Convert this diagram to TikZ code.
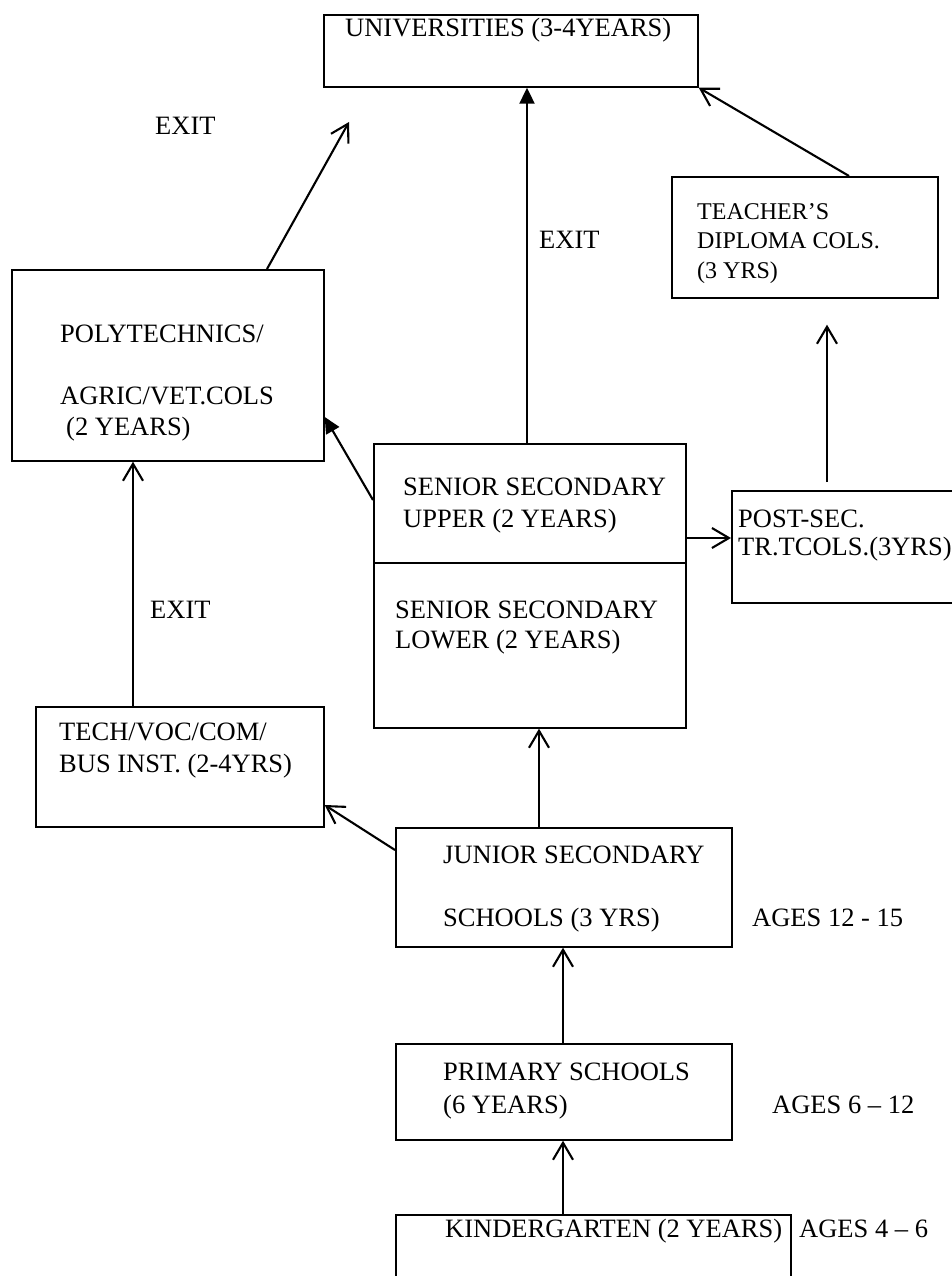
\documentclass[tikz,border=0pt]{standalone}
\usepackage{fontspec}
\setmainfont{Liberation Serif}
\usetikzlibrary{arrows.meta}

\tikzset{
	box/.style={draw, line width=1.7pt, rectangle, inner sep=0pt, anchor=north west},
	txt/.style={anchor=base west, inner sep=0pt, align=left, font=\fontsize{26.5}{31}\selectfont},
	smalltxt/.style={txt, font=\fontsize{24}{29.5}\selectfont},
	openarrow/.style={line width=2.1pt, -{Straight Barb[length=17pt,width=20pt]}},
	fillarrow/.style={line width=2.1pt, -{Triangle[length=16pt,width=15pt]}}
}

\begin{document}
\begin{tikzpicture}[x=1pt, y=-1pt]
			
			\useasboundingbox (0,0) rectangle (951,1276);
			
			% Boxes
			\node[box, minimum width=374pt, minimum height=72pt] (univ) at (323,14) {};
			\node[box, minimum width=312pt, minimum height=191pt] (poly) at (11,269) {};
			\node[box, minimum width=266pt, minimum height=121pt] (teach) at (671,176) {};
			\node[box, minimum width=312pt, minimum height=119pt] (seniorup) at (373,443) {};
			\node[box, minimum width=312pt, minimum height=165pt] (seniorlow) at (373,562) {};
			\node[box, minimum width=240pt, minimum height=112pt] (post) at (731,490) {};
			\node[box, minimum width=288pt, minimum height=120pt] (tech) at (35,706) {};
			\node[box, minimum width=336pt, minimum height=119pt] (junior) at (395,827) {};
			\node[box, minimum width=336pt, minimum height=96pt] (primary) at (395,1043) {};
			\node[box, minimum width=395pt, minimum height=100pt] (kinder) at (395,1214) {};
			
			% Box texts (placed at the baseline of their last line)
			\node[txt] (univtxt) at (345,37) {UNIVERSITIES (3-4YEARS)};
			\node[smalltxt] (teachtxt) at (697,278) {TEACHER’S\\DIPLOMA COLS.\\(3 YRS)};
			\node[txt] (polytxt) at (60,435) {POLYTECHNICS/\\[31pt]AGRIC/VET.COLS\\\hspace*{6pt}(2 YEARS)};
			\node[txt, font=\fontsize{26.5}{32}\selectfont] (seniouptxt) at (403,527) {SENIOR SECONDARY\\UPPER (2 YEARS)};
			\node[txt, font=\fontsize{26.5}{30}\selectfont] (seniorlowtxt) at (395,648) {SENIOR SECONDARY\\LOWER (2 YEARS)};
			\node[txt, font=\fontsize{26.5}{28}\selectfont] (posttxt) at (738,555) {POST-SEC.\\TR.TCOLS.(3YRS)};
			\node[txt, font=\fontsize{26.5}{32}\selectfont] (techtxt) at (59,772) {TECH/VOC/COM/\\BUS INST. (2-4YRS)};
			\node[txt] (juniortxt) at (443,926) {JUNIOR SECONDARY\\[31.5pt]SCHOOLS (3 YRS)};
			\node[txt, font=\fontsize{26.5}{33}\selectfont] (primarytxt) at (443,1113) {PRIMARY SCHOOLS\\(6 YEARS)};
			\node[txt] (kindertxt) at (445,1237) {KINDERGARTEN (2 YEARS)};
			
			% Exit and age labels
			\node[txt] (exita) at (155,135) {EXIT};
			\node[txt] (exitb) at (539,248) {EXIT};
			\node[txt] (exitc) at (150,618) {EXIT};
			\node[txt] (agesjun) at (752,926) {AGES 12 - 15};
			\node[txt] (agesprim) at (772,1113) {AGES 6 – 12};
			\node[txt] (ageskin) at (799,1237) {AGES 4 – 6};
			
			% Free arrow end
			\coordinate (polyexit) at (349,122);
			
			% Connecting arrows
			\draw[openarrow] (267,0 |- poly.north) -- (polyexit);
			\draw[fillarrow] (527,0 |- seniorup.north) -- (527,0 |- univ.south);
			\draw[fillarrow] (seniorup.west |- 0,500) -- (poly.east |- 0,417);
			\draw[openarrow] (seniorup.east |- 0,538) -- (post.west |- 0,538);
			\draw[openarrow] ([yshift=8pt]post.north -| 827,0) -- ([yshift=-26pt]teach.south -| 827,0);
			\draw[openarrow] (849,0 |- teach.north) -- (univ.south east);
			\draw[openarrow] (133,0 |- tech.north) -- (133,0 |- poly.south);
			\draw[openarrow] (junior.west |- 0,850) -- (tech.east |- 0,805);
			\draw[openarrow] (539,0 |- junior.north) -- (539,0 |- seniorlow.south);
			\draw[openarrow] (563,0 |- primary.north) -- (563,0 |- junior.south);
			\draw[openarrow] (563,0 |- kinder.north) -- (563,0 |- primary.south);
			
		\end{tikzpicture}
\end{document}
